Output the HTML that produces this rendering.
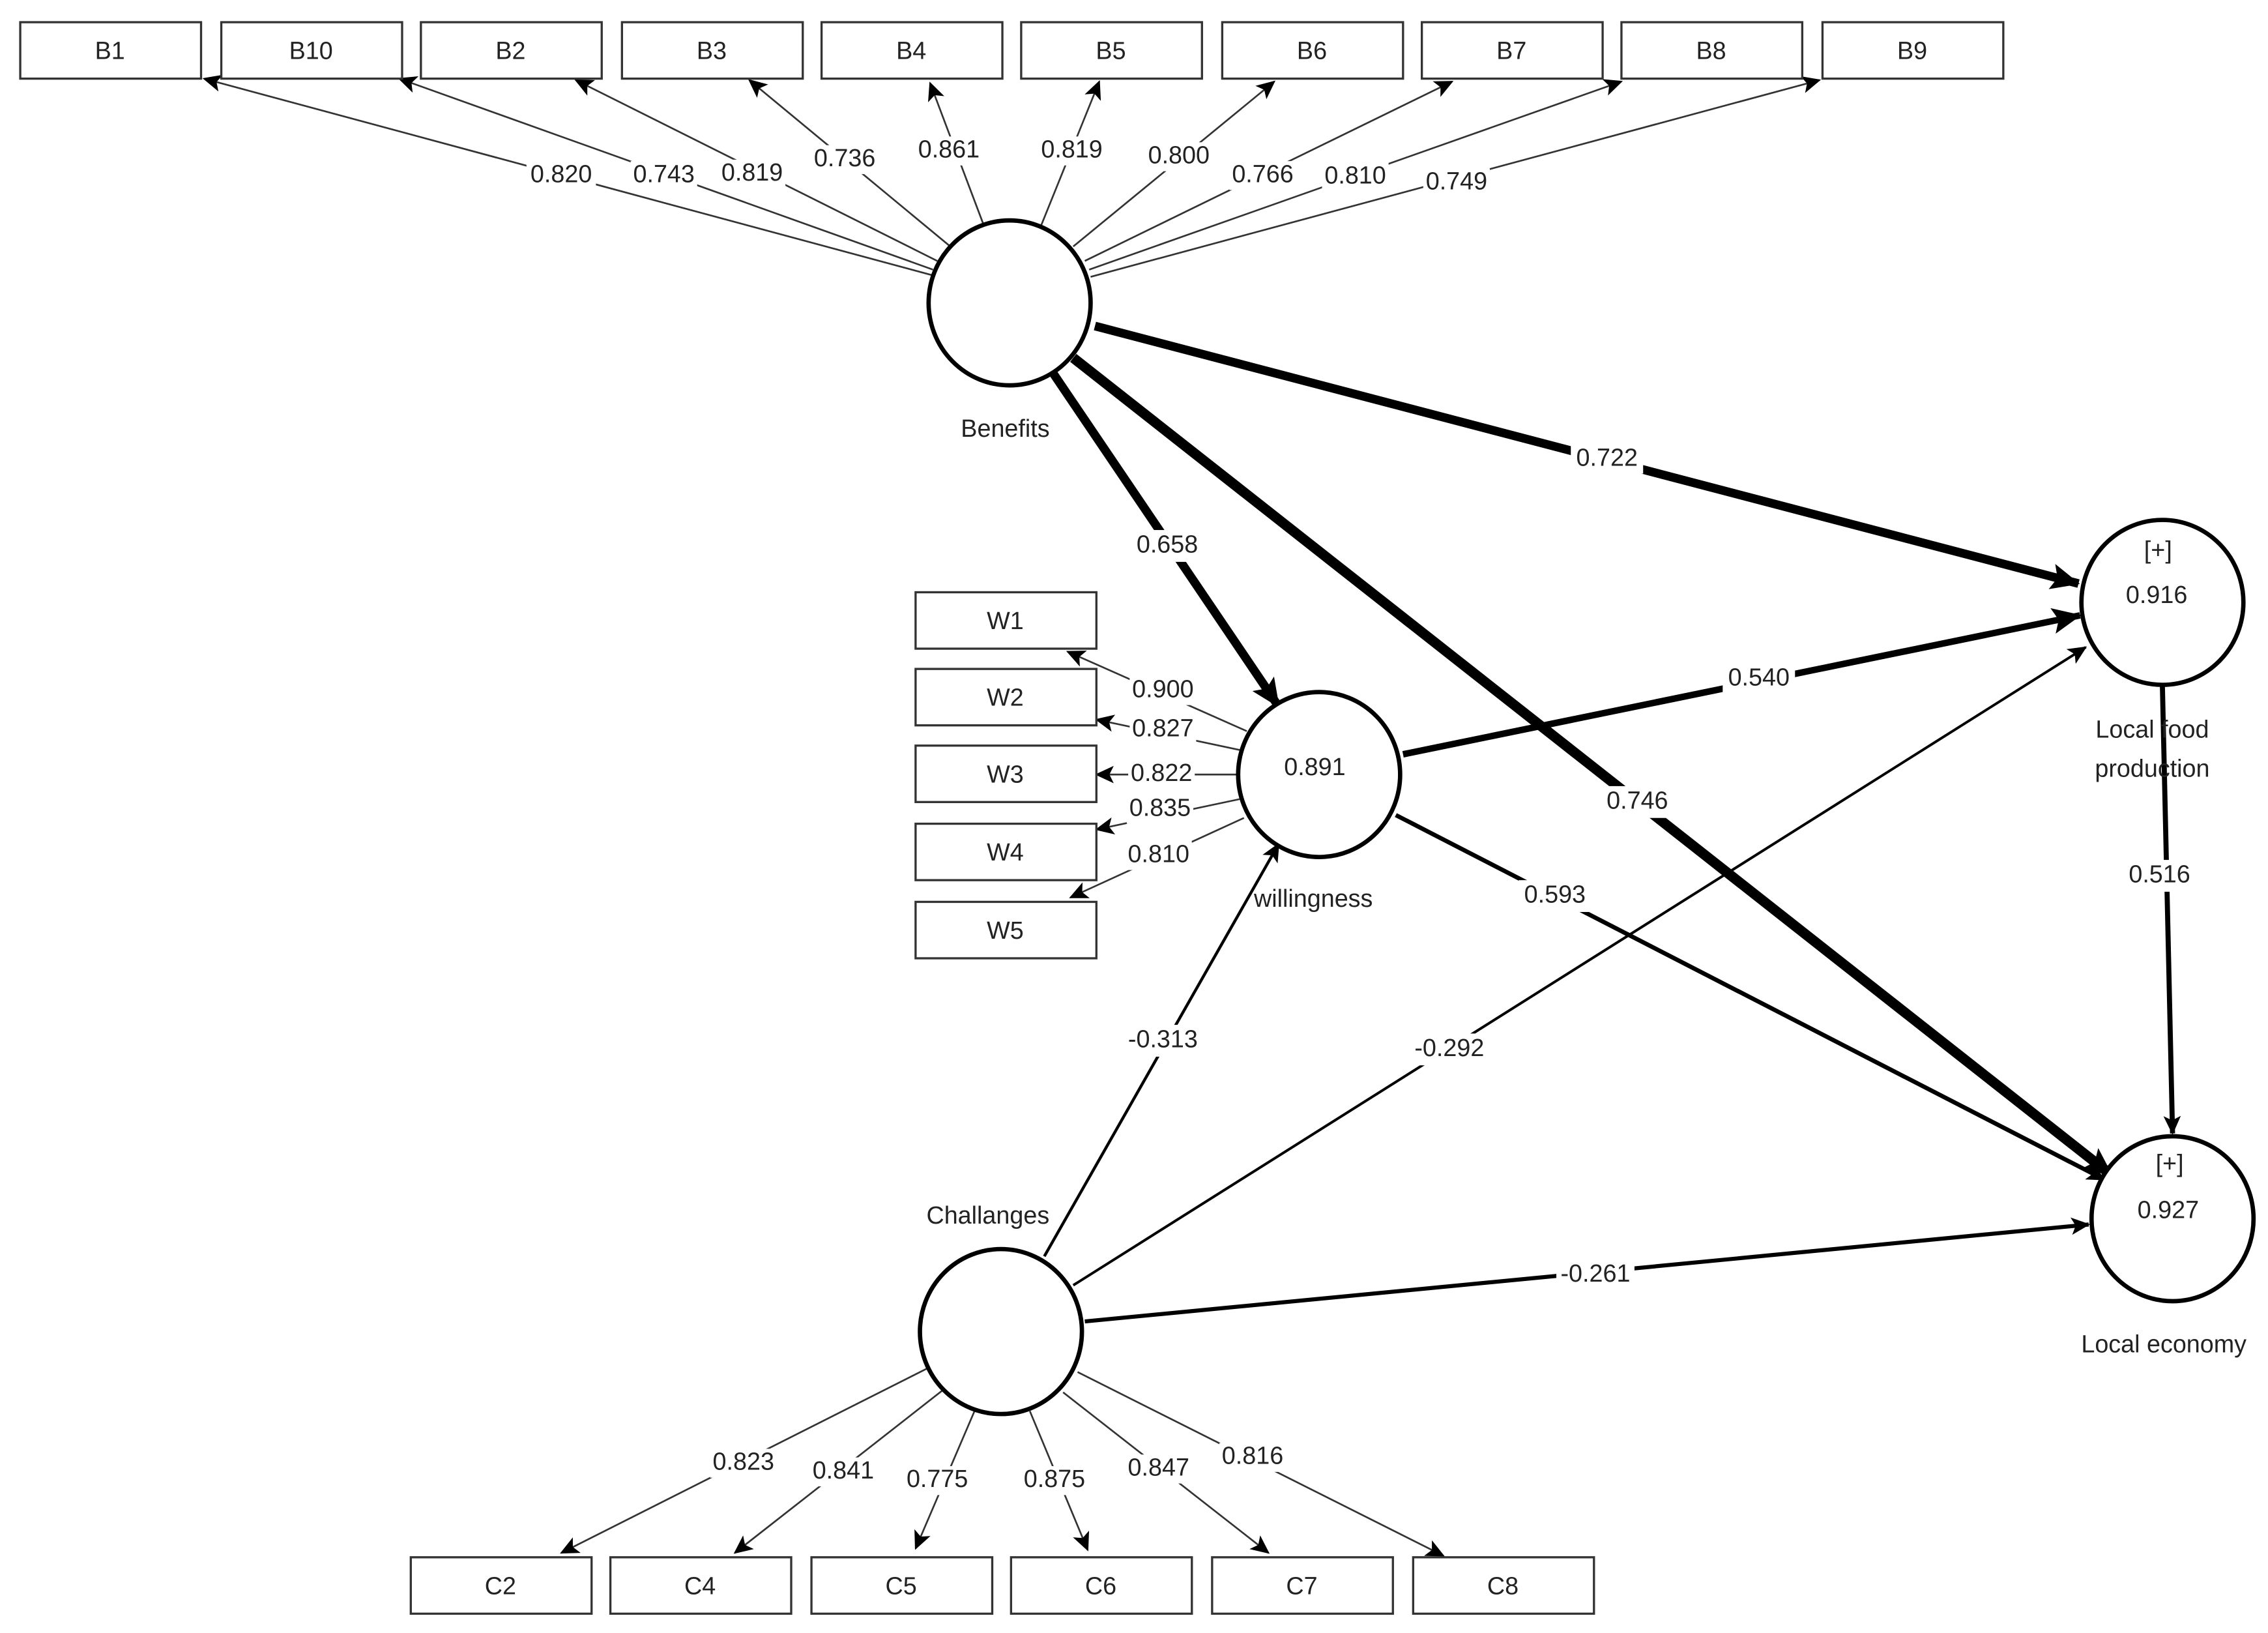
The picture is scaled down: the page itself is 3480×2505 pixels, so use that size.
<!DOCTYPE html>
<html><head><meta charset="utf-8"><style>
html,body{margin:0;padding:0;background:#fff;}
svg{display:block;}
text{font-family:"Liberation Sans",sans-serif;font-size:17px;fill:#222;text-anchor:middle;dominant-baseline:middle;}
.box{fill:#fff;stroke:#333;stroke-width:1.5;}
.c{fill:#fff;stroke:#000;stroke-width:3;}
.bg{fill:#fff;}
</style></head><body>
<svg width="3480" height="2505" viewBox="0 0 1568 1128" xmlns="http://www.w3.org/2000/svg">
<defs>
<marker id="a" markerUnits="userSpaceOnUse" markerWidth="14" markerHeight="12" refX="12" refY="6" orient="auto"><path d="M0,0 L13,6 L0,12 L3,6 z" fill="#000"/></marker>
<marker id="b" markerUnits="userSpaceOnUse" markerWidth="22" markerHeight="18" refX="19" refY="9" orient="auto"><path d="M0,0 L20,9 L0,18 L4,9 z" fill="#000"/></marker>
</defs>
<rect width="1568" height="1128" fill="#fff"/>
<g stroke="#333" stroke-width="1.2" fill="none" marker-end="url(#a)">
<line x1="645" y1="190" x2="141" y2="54"/>
<line x1="645" y1="186" x2="276" y2="54"/>
<line x1="648" y1="180" x2="398" y2="55"/>
<line x1="657" y1="170" x2="518" y2="55"/>
<line x1="680" y1="155" x2="643" y2="57"/>
<line x1="720" y1="155" x2="760" y2="56"/>
<line x1="742" y1="170" x2="881" y2="56"/>
<line x1="750" y1="180" x2="1004" y2="56"/>
<line x1="753" y1="186" x2="1121" y2="56"/>
<line x1="754" y1="191" x2="1258" y2="55"/>
<line x1="862" y1="505" x2="738" y2="450"/>
<line x1="857" y1="518" x2="758" y2="497"/>
<line x1="856" y1="535" x2="758" y2="535"/>
<line x1="857" y1="552" x2="758" y2="573"/>
<line x1="860" y1="565" x2="740" y2="620"/>
<line x1="642" y1="945" x2="388" y2="1073"/>
<line x1="655" y1="958" x2="508" y2="1073"/>
<line x1="675" y1="972" x2="633" y2="1070"/>
<line x1="712" y1="975" x2="752" y2="1071"/>
<line x1="735" y1="962" x2="877" y2="1073"/>
<line x1="745" y1="948" x2="998" y2="1075"/>
</g>
<g stroke="#000" fill="none">
<line x1="757" y1="225" x2="1437" y2="403" stroke-width="6" marker-end="url(#b)"/>
<line x1="727" y1="256" x2="884" y2="488" stroke-width="6" marker-end="url(#b)"/>
<line x1="742" y1="247" x2="1460" y2="812" stroke-width="7" marker-end="url(#b)"/>
<line x1="970" y1="521" x2="1438" y2="425" stroke-width="4.5" marker-end="url(#b)"/>
<line x1="965" y1="563" x2="1455" y2="815" stroke-width="3" marker-end="url(#a)"/>
<line x1="1495" y1="474" x2="1502" y2="783" stroke-width="3.5" marker-end="url(#a)"/>
<line x1="722" y1="868" x2="884" y2="583" stroke-width="2" marker-end="url(#a)"/>
<line x1="742" y1="888" x2="1442" y2="447" stroke-width="1.8" marker-end="url(#a)"/>
<line x1="750" y1="913" x2="1444" y2="846" stroke-width="2.8" marker-end="url(#a)"/>
</g>
<g>
<rect class="box" x="14" y="15" width="125" height="39"/><text x="76" y="36">B1</text>
<rect class="box" x="153" y="15" width="125" height="39"/><text x="215" y="36">B10</text>
<rect class="box" x="291" y="15" width="125" height="39"/><text x="353" y="36">B2</text>
<rect class="box" x="430" y="15" width="125" height="39"/><text x="492" y="36">B3</text>
<rect class="box" x="568" y="15" width="125" height="39"/><text x="630" y="36">B4</text>
<rect class="box" x="706" y="15" width="125" height="39"/><text x="768" y="36">B5</text>
<rect class="box" x="845" y="15" width="125" height="39"/><text x="907" y="36">B6</text>
<rect class="box" x="983" y="15" width="125" height="39"/><text x="1045" y="36">B7</text>
<rect class="box" x="1121" y="15" width="125" height="39"/><text x="1183" y="36">B8</text>
<rect class="box" x="1260" y="15" width="125" height="39"/><text x="1322" y="36">B9</text>
<rect class="box" x="633" y="409" width="125" height="39"/><text x="695" y="430">W1</text>
<rect class="box" x="633" y="462" width="125" height="39"/><text x="695" y="483">W2</text>
<rect class="box" x="633" y="515" width="125" height="39"/><text x="695" y="536">W3</text>
<rect class="box" x="633" y="569" width="125" height="39"/><text x="695" y="590">W4</text>
<rect class="box" x="633" y="623" width="125" height="39"/><text x="695" y="644">W5</text>
<rect class="box" x="284" y="1076" width="125" height="39"/><text x="346" y="1097">C2</text>
<rect class="box" x="422" y="1076" width="125" height="39"/><text x="484" y="1097">C4</text>
<rect class="box" x="561" y="1076" width="125" height="39"/><text x="623" y="1097">C5</text>
<rect class="box" x="699" y="1076" width="125" height="39"/><text x="761" y="1097">C6</text>
<rect class="box" x="838" y="1076" width="125" height="39"/><text x="900" y="1097">C7</text>
<rect class="box" x="977" y="1076" width="125" height="39"/><text x="1039" y="1097">C8</text>
</g>
<ellipse class="c" cx="698" cy="209" rx="56" ry="57"/>
<ellipse class="c" cx="912" cy="535" rx="56" ry="57"/>
<ellipse class="c" cx="1495" cy="416" rx="56" ry="57"/>
<ellipse class="c" cx="1502" cy="842" rx="56" ry="57"/>
<ellipse class="c" cx="692" cy="920" rx="56" ry="57"/>
<text x="909" y="531">0.891</text>
<text x="1492" y="381">[+]</text><text x="1491" y="412">0.916</text>
<text x="1500" y="805">[+]</text><text x="1499" y="837">0.927</text>
<text x="695" y="297">Benefits</text>
<text x="908" y="622">willingness</text>
<text x="1488" y="505">Local food</text>
<text x="1488" y="532">production</text>
<text x="1496" y="930">Local economy</text>
<text x="683" y="841">Challanges</text>
<g>
<rect class="bg" x="364" y="111" width="48" height="20"/><text x="388" y="121">0.820</text>
<rect class="bg" x="436" y="111" width="46" height="20"/><text x="459" y="121">0.743</text>
<rect class="bg" x="497" y="110" width="46" height="20"/><text x="520" y="120">0.819</text>
<rect class="bg" x="561" y="100" width="46" height="20"/><text x="584" y="110">0.736</text>
<rect class="bg" x="633" y="94" width="46" height="20"/><text x="656" y="104">0.861</text>
<rect class="bg" x="718" y="94" width="46" height="20"/><text x="741" y="104">0.819</text>
<rect class="bg" x="792" y="98" width="46" height="20"/><text x="815" y="108">0.800</text>
<rect class="bg" x="850" y="111" width="46" height="20"/><text x="873" y="121">0.766</text>
<rect class="bg" x="914" y="112" width="46" height="20"/><text x="937" y="122">0.810</text>
<rect class="bg" x="984" y="116" width="46" height="20"/><text x="1007" y="126">0.749</text>
<rect class="bg" x="781" y="467" width="46" height="20"/><text x="804" y="477">0.900</text>
<rect class="bg" x="781" y="494" width="46" height="20"/><text x="804" y="504">0.827</text>
<rect class="bg" x="780" y="525" width="46" height="20"/><text x="803" y="535">0.822</text>
<rect class="bg" x="779" y="549" width="46" height="20"/><text x="802" y="559">0.835</text>
<rect class="bg" x="778" y="581" width="46" height="20"/><text x="801" y="591">0.810</text>
<rect class="bg" x="491" y="1001" width="46" height="20"/><text x="514" y="1011">0.823</text>
<rect class="bg" x="560" y="1007" width="46" height="20"/><text x="583" y="1017">0.841</text>
<rect class="bg" x="625" y="1013" width="46" height="20"/><text x="648" y="1023">0.775</text>
<rect class="bg" x="706" y="1013" width="46" height="20"/><text x="729" y="1023">0.875</text>
<rect class="bg" x="778" y="1005" width="46" height="20"/><text x="801" y="1015">0.847</text>
<rect class="bg" x="843" y="997" width="46" height="20"/><text x="866" y="1007">0.816</text>
<rect class="bg" x="1086" y="305" width="50" height="22"/><text x="1111" y="317">0.722</text>
<rect class="bg" x="782" y="366" width="50" height="22"/><text x="807" y="377">0.658</text>
<rect class="bg" x="1107" y="543" width="50" height="22"/><text x="1132" y="554">0.746</text>
<rect class="bg" x="1191" y="458" width="50" height="22"/><text x="1216" y="469">0.540</text>
<rect class="bg" x="1050" y="608" width="50" height="22"/><text x="1075" y="619">0.593</text>
<rect class="bg" x="1470" y="594" width="46" height="22"/><text x="1493" y="605">0.516</text>
<rect class="bg" x="777" y="708" width="54" height="22"/><text x="804" y="719">-0.313</text>
<rect class="bg" x="975" y="714" width="54" height="22"/><text x="1002" y="725">-0.292</text>
<rect class="bg" x="1076" y="870" width="54" height="22"/><text x="1103" y="881">-0.261</text>
</g>
</svg>
</body></html>
